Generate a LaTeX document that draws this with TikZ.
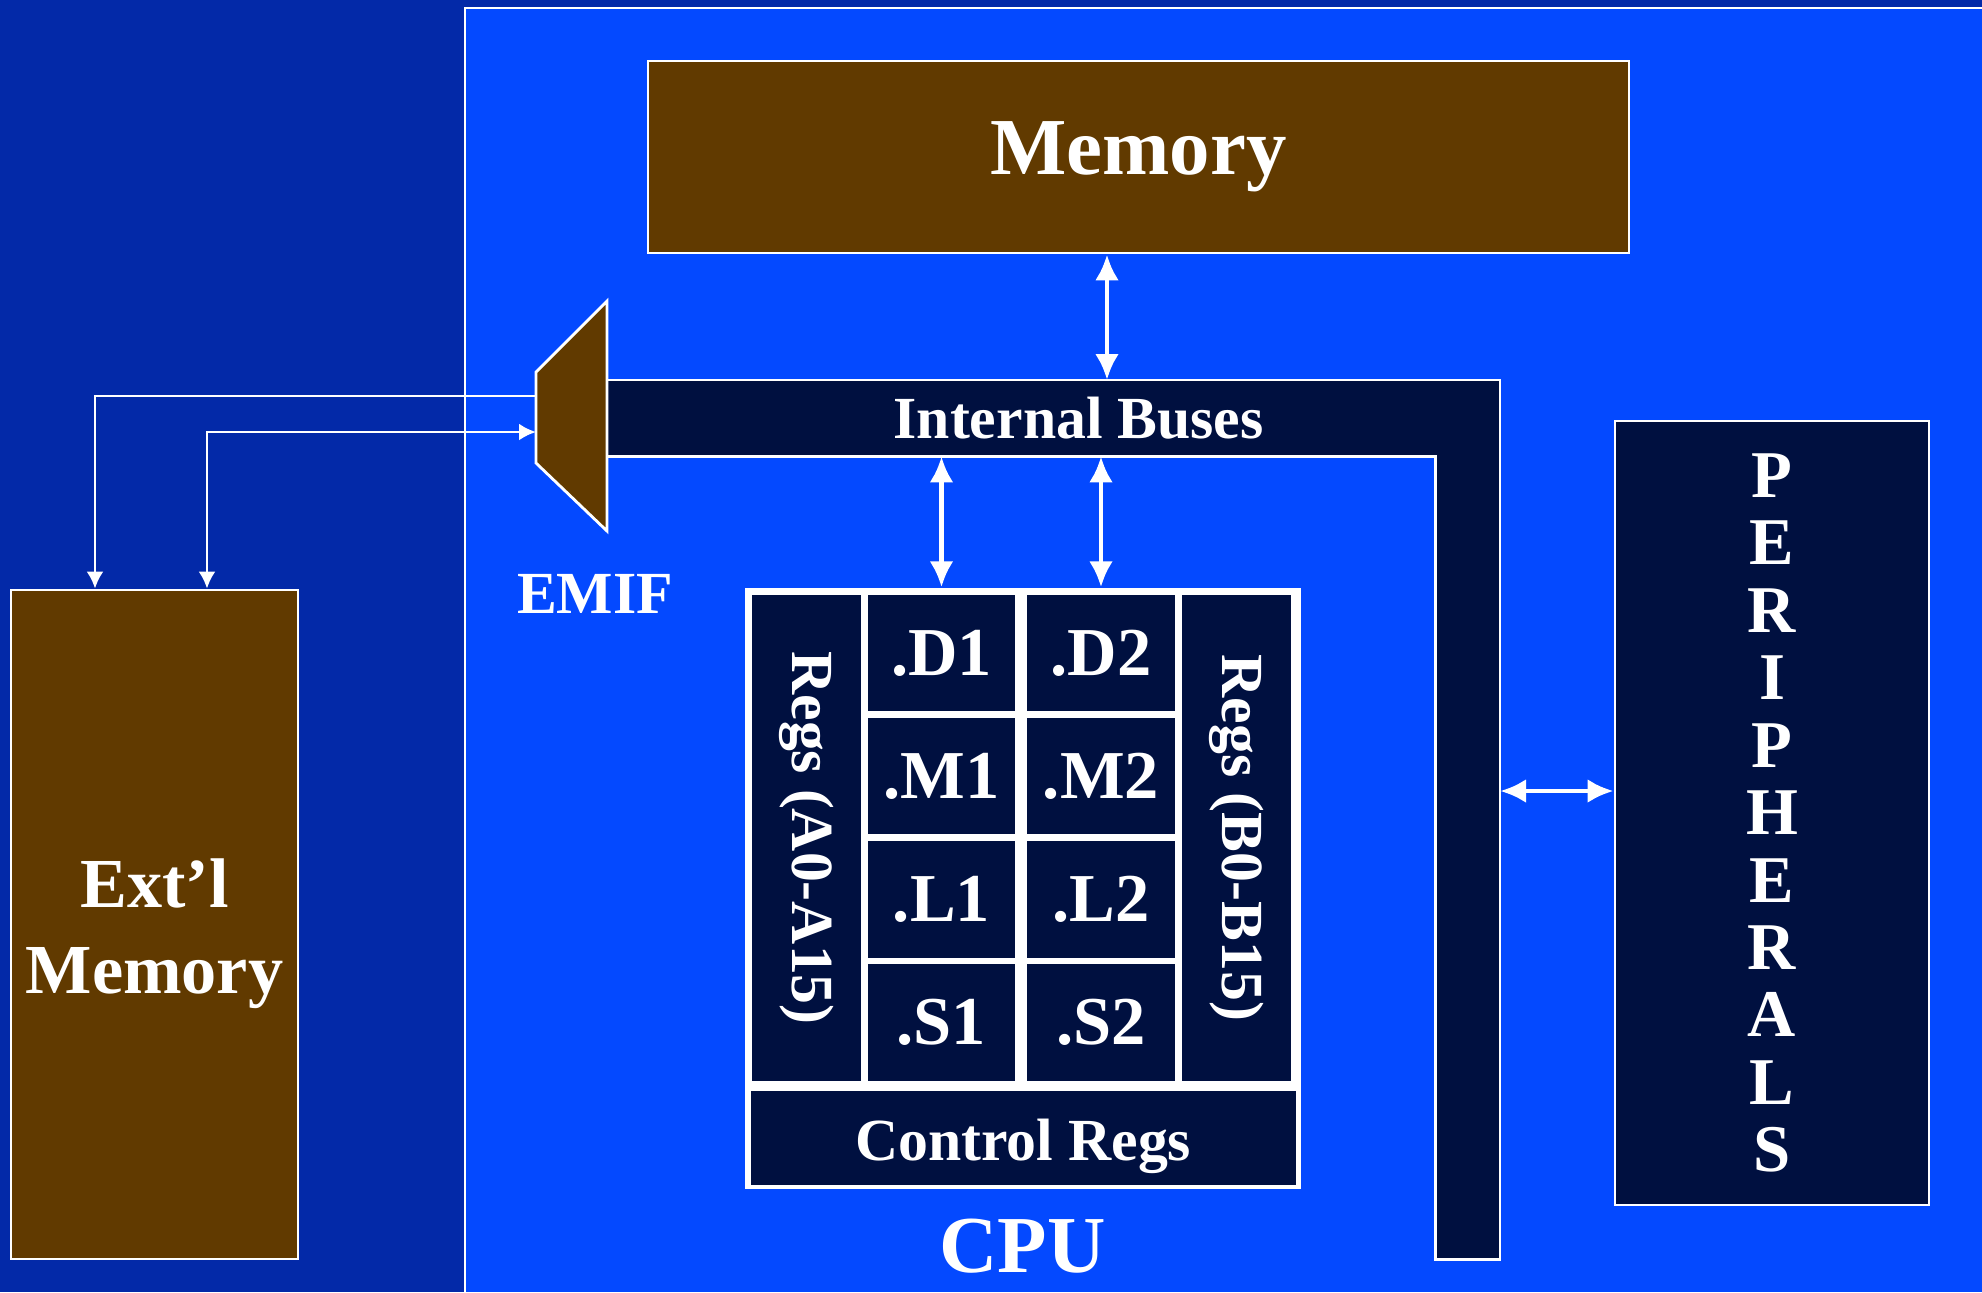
\documentclass[tikz,border=0pt]{standalone}
\usepackage{fontspec}
\setmainfont{Liberation Serif}
\usetikzlibrary{arrows.meta,positioning,calc}

\definecolor{boardblue}{RGB}{3,41,168}
\definecolor{chipblue}{RGB}{4,73,255}
\definecolor{unitnavy}{RGB}{0,16,64}
\definecolor{membrown}{RGB}{97,58,0}

\begin{document}
\begin{tikzpicture}[
    >={Latex[length=1.7mm,width=1.7mm]},
    box/.style={draw=white, line width=0.8pt, inner sep=0pt, text=white, align=center},
    mem/.style={box, fill=membrown},
    unit/.style={box, fill=unitnavy, line width=0.5pt, minimum width=14.9mm, minimum height=11.8mm,
        font=\bfseries\fontsize{19.5}{22}\selectfont},
    regs/.style={box, fill=unitnavy, line width=0.5pt, rotate=-90, minimum width=48.8mm, minimum height=11.1mm,
        font=\bfseries\fontsize{17}{20}\selectfont},
    lbl/.style={text=white, inner sep=0pt, font=\bfseries\fontsize{17}{20}\selectfont},
    bus/.style={draw=white, line width=0.8pt, fill=unitnavy},
    wire/.style={white, line width=0.8pt},
    dbl/.style={white, line width=1.4pt, {Latex[length=2.6mm,width=2.4mm]}-{Latex[length=2.6mm,width=2.4mm]}},
]
\useasboundingbox (0,0) rectangle (19.82,-12.92);
\fill[boardblue] (0,0) rectangle (19.82,-12.92);
\fill[chipblue] (4.65,-0.08) rectangle (19.82,-12.92);
\draw[white, line width=0.6pt] (4.65,-12.92) -- (4.65,-0.08) -- (19.82,-0.08);

% on-chip memory
\node[mem, minimum width=98.1mm, minimum height=19.2mm,
      font=\bfseries\fontsize{23}{26}\selectfont] (memory) at (11.385,-1.57) {Memory};

% internal buses
\node[inner sep=0pt, minimum width=89.3mm, minimum height=7.5mm, anchor=north west] (bus) at (6.07,-3.80) {};
\node[inner sep=0pt, minimum width=6.3mm, minimum height=87.8mm, anchor=north east] (busv) at (15.00,-3.80) {};
\draw[bus] (bus.north west) -- (busv.north east) -- (busv.south east) -- (busv.south west)
    -- (busv.west |- bus.south) -- (bus.south west) -- cycle;
\node[lbl] (buslbl) at ([xshift=2.45mm]bus.center) {Internal Buses};

% EMIF
\draw[draw=white, line width=0.8pt, fill=membrown] (6.07,-3.01) -- (6.07,-5.31) -- (5.36,-4.63) -- (5.36,-3.72) -- cycle;
\coordinate (emifout) at (5.36,-3.96);
\coordinate (emifin) at (5.36,-4.32);
\node[lbl] (emiflbl) at (5.95,-5.94) {EMIF};

% external memory
\node[mem, minimum width=28.7mm, minimum height=66.9mm] (extmem) at (1.545,-9.245) {};
\node[lbl, align=center, font=\bfseries\fontsize{20}{24.4}\selectfont] (extlbl)
      at ([yshift=-0.9mm]extmem.center) {Ext’l\\Memory};
\draw[wire, ->] (emifout) -| ([xshift=-5.95mm]extmem.north);
\draw[wire, <->] ([xshift=5.25mm]extmem.north) |- (emifin);

% CPU
\node[fill=white, inner sep=0pt, minimum width=55.6mm, minimum height=60.1mm] (cpu) at (10.226,-8.885) {};
\foreach \u [count=\i from 0] in {D,M,L,S} {
    \node[unit] (\u1) at (9.415,-6.53-1.232*\i) {.\u1};
    \node[unit] (\u2) at (11.01,-6.53-1.232*\i) {.\u2};
}
\node[regs] (regsA) at (8.064,-8.38) {Regs (A0-A15)};
\node[regs] (regsB) at (12.368,-8.38) {Regs (B0-B15)};
\node[box, fill=unitnavy, line width=0.5pt, minimum width=54.7mm, minimum height=9.6mm,
      text height=4.5mm, text depth=0pt,
      font=\bfseries\fontsize{17}{20}\selectfont] (ctrl) at (10.233,-11.376) {Control Regs};
\node[lbl, font=\bfseries\fontsize{23}{26}\selectfont, below=2.9mm of cpu] (cpulbl) {CPU};

% peripherals
\node[box, fill=unitnavy, minimum width=31.4mm, minimum height=78.4mm,
      font=\bfseries\fontsize{19}{19.2}\selectfont] (periph) at (17.72,-8.13)
      {P\\E\\R\\I\\P\\H\\E\\R\\A\\L\\S};

% bus connections
\coordinate (memport) at ([xshift=-3.15mm]memory.south);
\draw[dbl] (memport) -- (memport |- bus.north);
\draw[dbl] (bus.south -| D1) -- (cpu.north -| D1);
\draw[dbl] (bus.south -| D2) -- (cpu.north -| D2);
\coordinate (pport) at ([yshift=2.2mm]periph.west);
\draw[dbl] (busv.east |- pport) -- (pport);

\end{tikzpicture}
\end{document}
